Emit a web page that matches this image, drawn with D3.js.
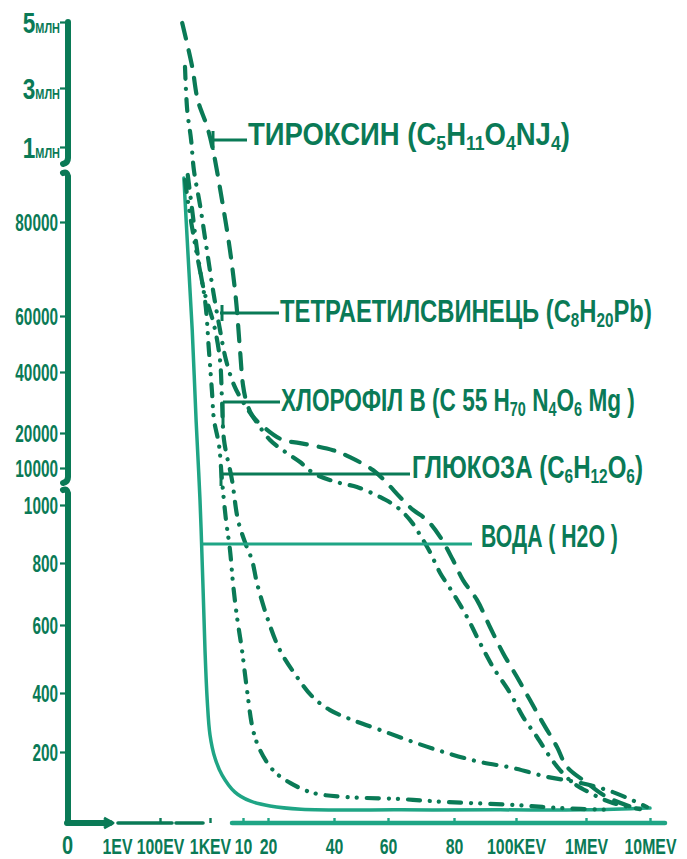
<!DOCTYPE html>
<html>
<head>
<meta charset="utf-8">
<script src="https://cdn.jsdelivr.net/npm/d3@7"></script>
<style>
  html, body { margin: 0; padding: 0; background: #ffffff; }
  svg { display: block; }
  text { font-family: "Liberation Sans", Arial, sans-serif; font-weight: bold; }
</style>
</head>
<body>
<svg id="chart" width="687" height="859"></svg>
<script>
// ---------- axis values ----------
// energy in keV, drawn on a hand-made broken scale
const energyTicks  = [0, 0.001, 0.1, 1, 10, 20, 40, 60, 80, 100, 1000, 10000];
const energyLabels = ["0", "1EV", "100EV", "1KEV", "10", "20", "40", "60", "80", "100KEV", "1MEV", "10MEV"];

// vertical quantity, three broken ranges: 0–1000, 10000–80000, 1–5 млн
const countTicks  = [0, 200, 400, 600, 800, 1000, 10000, 20000, 40000, 60000, 80000, 1e6, 3e6, 5e6];
const countLabels = ["", "200", "400", "600", "800", "1000", "10000", "20000", "40000", "60000", "80000", "1", "3", "5"];

// ---------- series (energy keV / value) ----------
const vodaE = [0.53, 0.6, 0.68, 0.75, 0.82, 0.87, 0.91, 0.95, 1.0, 2.36, 4.3, 7.8, 12.8, 20.6, 30, 64, 95, 1000, 10000];
const vodaN = [620000, 74000, 55000, 24000, 2200, 745, 526, 376, 258, 183, 135, 87, 62, 48, 39, 37, 37, 37, 42];

const glucoseE = [0.55, 0.64, 0.75, 0.91, 0.98, 1.55, 2.09, 3.45, 4.27, 5.36, 6.45, 7.27, 8.36, 9.73, 11.6, 14, 16.8, 21.5, 26.7, 33.6, 44.8, 62.7, 77.9, 99, 666, 4375];
const glucoseN = [595000, 166000, 74000, 63400, 47900, 33400, 24300, 16600, 7080, 948, 845, 735, 626, 526, 409, 275, 207, 149, 113, 85, 73, 68, 59, 51, 42, 37];

const chloroE = [0.6, 0.69, 0.78, 0.89, 2.09, 3.73, 4.27, 4.82, 7.0, 8.64, 11.2, 13.6, 15.6, 19.6, 23.6, 28.8, 33.6, 38.8, 47, 57, 67.6, 77.9, 88.4, 99, 499, 923, 4796, 9577];
const chloroN = [657000, 166000, 73000, 65500, 56800, 44300, 30800, 18000, 7080, 948, 862, 810, 735, 626, 526, 447, 386, 342, 308, 275, 234, 197, 172, 155, 130, 113, 87, 45];

const tetraE = [0.55, 0.59, 0.66, 0.71, 0.82, 0.93, 1.82, 3.73, 5.36, 7.55, 10, 14.8, 20.6, 25.2, 29.7, 34.2, 42.2, 48.5, 57, 62.7, 66.7, 69.7, 72.7, 75.8, 79.7, 84.2, 88.4, 92.6, 98.1, 190, 370, 537, 666, 833, 1562, 4375, 8592];
const tetraN = [3640000, 2250000, 1240000, 718000, 289000, 75100, 65500, 55000, 44300, 35700, 30200, 24300, 18000, 14600, 11700, 8540, 6350, 5380, 2950, 993, 948, 897, 838, 768, 703, 626, 547, 476, 400, 319, 251, 186, 149, 113, 85, 59, 39];

const thyroE = [0.5, 0.68, 0.78, 0.95, 1.82, 4.27, 6.45, 8.09, 9.18, 10, 11.2, 13.6, 18.8, 24.5, 29.7, 39.7, 45.9, 54.4, 59.6, 63.6, 67.6, 71.8, 75.8, 79.7, 82.9, 87.4, 91.6, 95.8, 113, 280, 447, 627, 756, 1141, 3953, 8592];
const thyroN = [4970000, 3640000, 2590000, 1680000, 963000, 350000, 74000, 63400, 47900, 35700, 30800, 25900, 21600, 18000, 17100, 15100, 13100, 9510, 6350, 2950, 983, 948, 890, 810, 745, 681, 594, 518, 447, 376, 298, 217, 158, 113, 73, 37];

// ---------- styling ----------
const DARK = "#0a7a56";
const BRIGHT = "#1fa585";

const series = [
  { e: vodaE,    n: vodaN,    color: BRIGHT, width: 3.5, dash: null },
  { e: glucoseE, n: glucoseN, color: DARK,   width: 4.2, dash: "12,10,0.1,9,0.1,10" },
  { e: chloroE,  n: chloroN,  color: DARK,   width: 4.2, dash: "13,10,0.1,10" },
  { e: tetraE,   n: tetraN,   color: DARK,   width: 4.2, dash: "12,10,0.1,10" },
  { e: thyroE,   n: thyroN,   color: DARK,   width: 4.2, dash: "16,12" }
];

// ---------- scales (piecewise, one piece per tick interval) ----------
const x = d3.scaleLinear()
  .domain(energyTicks)
  .range([67, 117, 160, 210, 243, 268, 334, 388, 454, 516, 586, 650]);
const y = d3.scaleLinear()
  .domain(countTicks)
  .range([823, 752, 693, 625, 563, 505, 468, 433, 372, 316, 222, 147, 88, 22]);

const svg = d3.select("#chart");

// ---------- vertical axis, drawn in three broken pieces ----------
const yPieces = [[22, 163], [171, 482], [488, 823]];
const yAxisG = svg.append("g");
yPieces.forEach(([a, b], i) => {
  const top = i === 0 ? `M68,${a}` : `M63,${a + 2} Q67,${a} 68,${a + 5}`;
  const bottom = i === yPieces.length - 1 ? `L68,${b}` : `L68,${b - 5} Q68,${b} 63,${b + 1}`;
  yAxisG.append("path")
    .attr("d", top + " " + bottom)
    .attr("fill", "none")
    .attr("stroke", DARK)
    .attr("stroke-width", 6)
    .attr("stroke-linecap", "round");
});

const yAxis = d3.axisLeft(y)
  .tickValues(countTicks.slice(1))
  .tickSize(8)
  .tickFormat((d) => countLabels[countTicks.indexOf(d)]);
const gy = svg.append("g").attr("transform", "translate(68,0)").call(yAxis);
gy.select(".domain").remove();
gy.selectAll(".tick line").attr("stroke", DARK).attr("stroke-width", 2.2);
gy.selectAll(".tick text").each(function (d) {
  const t = d3.select(this);
  const label = countLabels[countTicks.indexOf(d)];
  t.text(null)
    .attr("x", 0)
    .attr("dy", "0.36em")
    .attr("fill", DARK)
    .attr("text-anchor", "end")
    .attr("font-size", 24);
  if (d >= 1e6) {
    t.append("tspan").attr("font-size", 29).text(label);
    t.append("tspan").attr("font-size", 14).text("МЛН");
    t.attr("transform", "translate(-8,2) scale(0.78,1)");
  } else {
    t.text(label);
    t.attr("transform", "translate(-10,0) scale(0.64,1)");
  }
});

// ---------- horizontal axis, broken pieces ----------
const xPieces = [
  { a: 67, b: 110, w: 6, c: DARK },
  { a: 118, b: 172, w: 3.6, c: DARK },
  { a: 176, b: 203, w: 3.6, c: DARK },
  { a: 232, b: 665, w: 4.5, c: BRIGHT }
];
xPieces.forEach((p) => {
  svg.append("line")
    .attr("x1", p.a).attr("x2", p.b)
    .attr("y1", 823).attr("y2", 823)
    .attr("stroke", p.c).attr("stroke-width", p.w)
    .attr("stroke-linecap", "round");
});
// small arrow head closing the first piece
svg.append("path")
  .attr("d", "M104,818 L113,823 L104,828")
  .attr("fill", "none").attr("stroke", DARK).attr("stroke-width", 3).attr("stroke-linejoin", "round");

const xAxis = d3.axisBottom(x)
  .tickValues(energyTicks)
  .tickFormat((d, i) => energyLabels[i])
  .tickSizeInner(-5)
  .tickSizeOuter(0);
const gx = svg.append("g").attr("transform", "translate(0,823)").call(xAxis);
gx.select(".domain").remove();
gx.selectAll(".tick line")
  .attr("stroke", (d) => (d >= 10 ? BRIGHT : DARK))
  .attr("stroke-width", 2.4)
  .attr("opacity", (d) => (d === 0 || d === 0.001 ? 0 : 1));
gx.selectAll(".tick text")
  .attr("y", 0).attr("dy", 0)
  .attr("fill", DARK)
  .attr("font-size", (d) => (d === 0 ? 25 : 22))
  .attr("transform", (d) => (d === 0 ? "translate(0,31) scale(0.8,1)" : "translate(0,31) scale(0.72,1)"));

// ---------- curves ----------
const line = d3.line()
  .x((d) => x(d[0]))
  .y((d) => y(d[1]))
  .curve(d3.curveCatmullRom.alpha(0.5));

svg.append("g").selectAll("path")
  .data(series)
  .join("path")
  .attr("d", (s) => line(s.e.map((e, i) => [e, s.n[i]])))
  .attr("fill", "none")
  .attr("stroke", (s) => s.color)
  .attr("stroke-width", (s) => s.width)
  .attr("stroke-dasharray", (s) => s.dash)
  .attr("stroke-linecap", "round")
  .attr("stroke-linejoin", "round");

// ---------- labels with leader lines ----------
const labels = [
  { parts: [["ТИРОКСИН ("], ["C"], ["5", 1], ["H"], ["11", 1], ["O"], ["4", 1], ["NJ"], ["4", 1], [")"]],
    tx: 248, ty: 145, tw: 322, leader: [[213, 140], [247, 140]], tick: [[213, 131], [213, 150]], color: DARK },
  { parts: [["ТЕТРАЕТИЛСВИНЕЦЬ ("], ["C"], ["8", 1], ["H"], ["20", 1], ["Pb)"]],
    tx: 280, ty: 322, tw: 372, leader: [[220, 313], [279, 313]], tick: [[222, 305], [222, 321]], color: DARK },
  { parts: [["ХЛОРОФІЛ В (C 55 H"], ["70", 1], [" N"], ["4", 1], ["O"], ["6", 1], [" Mg )"]],
    tx: 281, ty: 411, tw: 354, leader: [[223, 402], [280, 402]], tick: [[223, 402], [223, 428]], color: DARK },
  { parts: [["ГЛЮКОЗА (C"], ["6", 1], ["H"], ["12", 1], ["O"], ["6", 1], [")"]],
    tx: 412, ty: 478, tw: 231, leader: [[220, 474], [410, 474]], tick: [[221, 467], [221, 486]], color: DARK },
  { parts: [["ВОДА ( H2O )"]],
    tx: 481, ty: 547, tw: 137, leader: [[202, 544], [472, 544]], tick: null, color: BRIGHT }
];

const labelG = svg.append("g");
labels.forEach((L) => {
  labelG.append("path")
    .attr("d", d3.line()(L.leader))
    .attr("stroke", L.color).attr("stroke-width", 3).attr("fill", "none");
  if (L.tick) {
    labelG.append("path")
      .attr("d", d3.line()(L.tick))
      .attr("stroke", L.color).attr("stroke-width", 3).attr("fill", "none");
  }
  const g = labelG.append("g").attr("transform", `translate(${L.tx},${L.ty})`);
  const fs = 31;
  const t = g.append("text").attr("font-size", fs).attr("fill", DARK);
  let low = false;
  L.parts.forEach(([s, sub]) => {
    const ts = t.append("tspan").text(s);
    if (sub) {
      ts.attr("font-size", fs * 0.64);
      if (!low) { ts.attr("dy", fs * 0.16); low = true; }
    } else if (low) {
      ts.attr("dy", -fs * 0.16); low = false;
    }
  });
  const w = t.node().getBBox().width;
  t.attr("transform", `scale(${L.tw / w},1)`);
});
</script>
</body>
</html>
